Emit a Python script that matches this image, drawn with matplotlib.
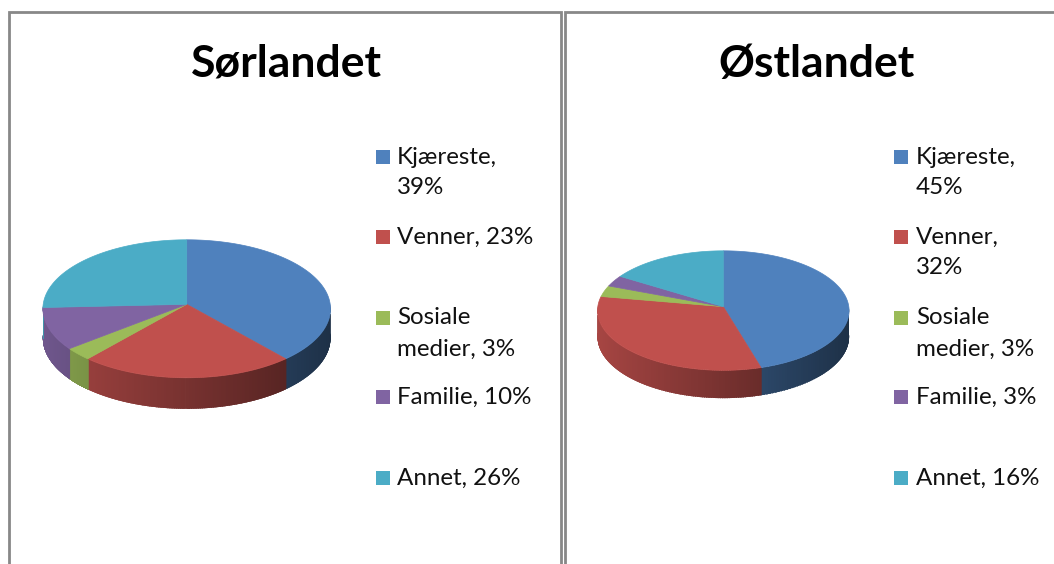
import numpy as np
import matplotlib.pyplot as plt
from matplotlib.patches import Polygon, Rectangle
from matplotlib.collections import PolyCollection
from matplotlib.colors import to_rgb

categories = ['Kjæreste', 'Venner', 'Sosiale medier', 'Familie', 'Annet']
sor_values = [39, 23, 3, 10, 26]
ost_values = [45, 32, 3, 3, 16]
titles = ['Sørlandet', 'Østlandet']
sor_labels = ['Kjæreste,\n39%', 'Venner, 23%', 'Sosiale\nmedier, 3%', 'Familie, 10%', 'Annet, 26%']
ost_labels = ['Kjæreste,\n45%', 'Venner,\n32%', 'Sosiale\nmedier, 3%', 'Familie, 3%', 'Annet, 16%']
colors = ['#4F81BD', '#C0504D', '#9BBB59', '#8064A2', '#4BACC6']

FONT = 'Lato'
PERSP = 0.065


def shade(c, f):
    r, g, b = to_rgb(c)
    return (r * f, g * f, b * f)


def proj(cx, cy, rx, ry, t):
    # point on the rim, with a little perspective (front looks bigger)
    u, v = np.cos(t), -np.sin(t)
    s = 1.0 / (1 - PERSP * v)
    return cx + rx * u * s, cy + ry * v * s, s


def pie3d(ax, values, cx, cy, rx, ry, depth):
    fr = np.array(values, dtype=float) / sum(values)
    edges = 90 - 360 * np.concatenate([[0], np.cumsum(fr)])

    # outline of the whole front wall, used as clip
    tf = np.radians(np.linspace(0, -180, 400))
    xs, ys, ss = proj(cx, cy, rx, ry, tf)
    wall = Polygon(list(zip(xs, ys)) + list(zip(xs[::-1], (ys + depth * ss)[::-1])),
                   closed=True, facecolor='none', edgecolor='none')
    ax.add_patch(wall)

    quads, qcols = [], []
    for i in range(len(values)):
        t = np.radians(np.linspace(edges[i], edges[i + 1], 120))
        t = t[np.sin(t) <= 0]
        for t1, t2 in zip(t[:-1], t[1:]):
            tm = (t1 + t2) / 2
            x1, y1, s1 = proj(cx, cy, rx, ry, t1)
            x2, y2, s2 = proj(cx, cy, rx, ry, t2)
            quads.append([(x1, y1 - 1), (x2, y2 - 1), (x2, y2 + depth * s2 + 2), (x1, y1 + depth * s1 + 2)])
            qcols.append(shade(colors[i], 0.62 - 0.25 * np.cos(tm)))
    pc = PolyCollection(quads, facecolors=qcols, edgecolors=qcols, linewidths=1.0, zorder=2)
    ax.add_collection(pc)
    pc.set_clip_path(wall)

    # top faces
    for i in range(len(values)):
        t = np.radians(np.linspace(edges[i], edges[i + 1], 200))
        xs, ys, _ = proj(cx, cy, rx, ry, t)
        pts = [(cx, cy)] + list(zip(xs, ys))
        ax.add_patch(Polygon(pts, closed=True, facecolor=colors[i],
                             edgecolor=colors[i], linewidth=0.5, zorder=3))


def legend(ax, labels, sx, tx):
    entry_y = [157, 237, 318, 397, 478]
    for i, lab in enumerate(labels):
        ax.add_patch(Rectangle((sx, entry_y[i] - 7), 14, 14, facecolor=colors[i],
                               edgecolor='none', zorder=4))
        for k, line in enumerate(lab.split('\n')):
            ax.text(tx, entry_y[i] + k * 31, line, fontsize=17.4, family=FONT,
                    va='center', ha='left', color='#111111')


fig = plt.figure(figsize=(10.54, 5.64), dpi=100)
ax = fig.add_axes([0, 0, 1, 1])
ax.set_xlim(0, 1054)
ax.set_ylim(564, 0)
ax.axis('off')

# panel frames
ax.add_patch(Rectangle((9, 12), 552, 600, facecolor='white', edgecolor='#888888', linewidth=2, zorder=0))
ax.add_patch(Rectangle((565, 12), 520, 600, facecolor='white', edgecolor='#888888', linewidth=2, zorder=0))

pie3d(ax, sor_values, 186.7, 304.3, 143.5, 68.7, 29)
pie3d(ax, ost_values, 723.3, 306.7, 125.5, 59.5, 26)

ax.text(286, 64, titles[0], fontsize=32, family=FONT, weight='bold', ha='center', va='center')
ax.text(816, 64, titles[1], fontsize=32, family=FONT, weight='bold', ha='center', va='center')

legend(ax, sor_labels, 376, 397)
legend(ax, ost_labels, 894, 916)

fig.savefig('out.png', dpi=100)
